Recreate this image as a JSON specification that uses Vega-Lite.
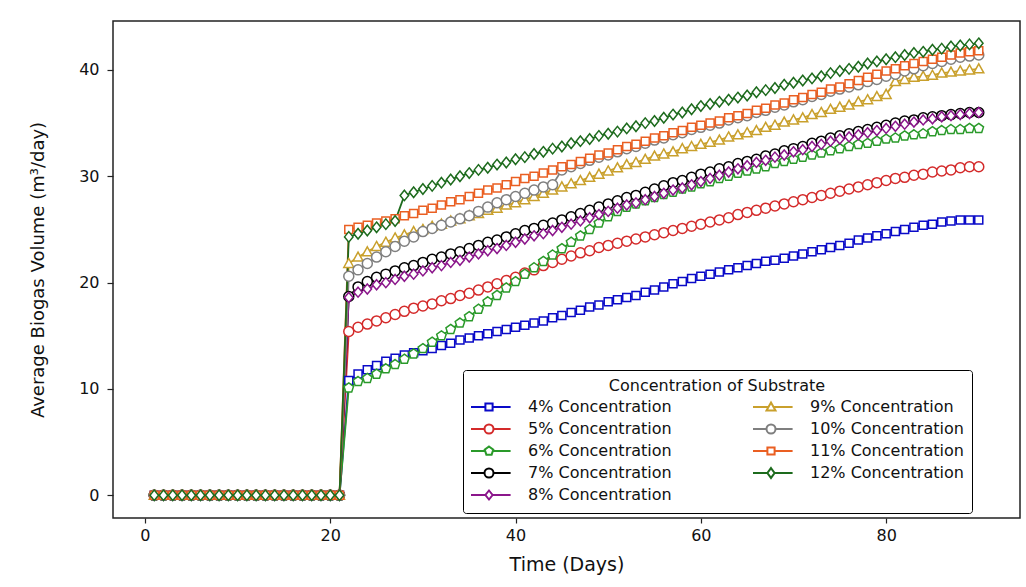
{
"$schema": "https://vega.github.io/schema/vega-lite/v6.json",
"width": 907, "height": 497,
"autosize": {"type": "none"},
"padding": {"left": 113, "top": 21, "right": 6, "bottom": 69},
"background": "white",
"config": {"font": "DejaVu Sans", "view": {"stroke": "#222222", "strokeWidth": 1.5}},
"data": {"values": [
{"c":"4%","d":1,"v":0},{"c":"4%","d":2,"v":0},{"c":"4%","d":3,"v":0},{"c":"4%","d":4,"v":0},{"c":"4%","d":5,"v":0},{"c":"4%","d":6,"v":0},{"c":"4%","d":7,"v":0},{"c":"4%","d":8,"v":0},{"c":"4%","d":9,"v":0},{"c":"4%","d":10,"v":0},{"c":"4%","d":11,"v":0},{"c":"4%","d":12,"v":0},{"c":"4%","d":13,"v":0},{"c":"4%","d":14,"v":0},{"c":"4%","d":15,"v":0},{"c":"4%","d":16,"v":0},{"c":"4%","d":17,"v":0},{"c":"4%","d":18,"v":0},{"c":"4%","d":19,"v":0},{"c":"4%","d":20,"v":0},{"c":"4%","d":21,"v":0},
{"c":"4%","d":22,"v":10.8},{"c":"4%","d":23,"v":11.4},{"c":"4%","d":24,"v":11.8},{"c":"4%","d":25,"v":12.2},{"c":"4%","d":26,"v":12.6},{"c":"4%","d":27,"v":12.9},{"c":"4%","d":28,"v":13.2},{"c":"4%","d":29,"v":13.4},{"c":"4%","d":30,"v":13.6},
{"c":"4%","d":31,"v":13.8},{"c":"4%","d":32,"v":14.1},{"c":"4%","d":33,"v":14.3},{"c":"4%","d":34,"v":14.6},{"c":"4%","d":35,"v":14.8},{"c":"4%","d":36,"v":15.0},{"c":"4%","d":37,"v":15.2},{"c":"4%","d":38,"v":15.4},{"c":"4%","d":39,"v":15.6},{"c":"4%","d":40,"v":15.8},
{"c":"4%","d":41,"v":16.0},{"c":"4%","d":42,"v":16.2},{"c":"4%","d":43,"v":16.4},{"c":"4%","d":44,"v":16.7},{"c":"4%","d":45,"v":16.9},{"c":"4%","d":46,"v":17.2},{"c":"4%","d":47,"v":17.4},{"c":"4%","d":48,"v":17.7},{"c":"4%","d":49,"v":17.9},{"c":"4%","d":50,"v":18.2},
{"c":"4%","d":51,"v":18.4},{"c":"4%","d":52,"v":18.6},{"c":"4%","d":53,"v":18.8},{"c":"4%","d":54,"v":19.1},{"c":"4%","d":55,"v":19.3},{"c":"4%","d":56,"v":19.6},{"c":"4%","d":57,"v":19.9},{"c":"4%","d":58,"v":20.1},{"c":"4%","d":59,"v":20.4},{"c":"4%","d":60,"v":20.6},
{"c":"4%","d":61,"v":20.8},{"c":"4%","d":62,"v":21.0},{"c":"4%","d":63,"v":21.2},{"c":"4%","d":64,"v":21.4},{"c":"4%","d":65,"v":21.6},{"c":"4%","d":66,"v":21.8},{"c":"4%","d":67,"v":22.0},{"c":"4%","d":68,"v":22.1},{"c":"4%","d":69,"v":22.3},{"c":"4%","d":70,"v":22.5},
{"c":"4%","d":71,"v":22.7},{"c":"4%","d":72,"v":22.9},{"c":"4%","d":73,"v":23.1},{"c":"4%","d":74,"v":23.3},{"c":"4%","d":75,"v":23.5},{"c":"4%","d":76,"v":23.7},{"c":"4%","d":77,"v":24.0},{"c":"4%","d":78,"v":24.2},{"c":"4%","d":79,"v":24.4},{"c":"4%","d":80,"v":24.6},
{"c":"4%","d":81,"v":24.8},{"c":"4%","d":82,"v":25.0},{"c":"4%","d":83,"v":25.2},{"c":"4%","d":84,"v":25.4},{"c":"4%","d":85,"v":25.5},{"c":"4%","d":86,"v":25.7},{"c":"4%","d":87,"v":25.8},{"c":"4%","d":88,"v":25.9},{"c":"4%","d":89,"v":25.9},{"c":"4%","d":90,"v":25.9},
{"c":"5%","d":1,"v":0},{"c":"5%","d":2,"v":0},{"c":"5%","d":3,"v":0},{"c":"5%","d":4,"v":0},{"c":"5%","d":5,"v":0},{"c":"5%","d":6,"v":0},{"c":"5%","d":7,"v":0},{"c":"5%","d":8,"v":0},{"c":"5%","d":9,"v":0},{"c":"5%","d":10,"v":0},{"c":"5%","d":11,"v":0},{"c":"5%","d":12,"v":0},{"c":"5%","d":13,"v":0},{"c":"5%","d":14,"v":0},{"c":"5%","d":15,"v":0},{"c":"5%","d":16,"v":0},{"c":"5%","d":17,"v":0},{"c":"5%","d":18,"v":0},{"c":"5%","d":19,"v":0},{"c":"5%","d":20,"v":0},{"c":"5%","d":21,"v":0},
{"c":"5%","d":22,"v":15.4},{"c":"5%","d":23,"v":15.8},{"c":"5%","d":24,"v":16.1},{"c":"5%","d":25,"v":16.4},{"c":"5%","d":26,"v":16.7},{"c":"5%","d":27,"v":17.0},{"c":"5%","d":28,"v":17.3},{"c":"5%","d":29,"v":17.6},{"c":"5%","d":30,"v":17.8},
{"c":"5%","d":31,"v":18.0},{"c":"5%","d":32,"v":18.3},{"c":"5%","d":33,"v":18.5},{"c":"5%","d":34,"v":18.8},{"c":"5%","d":35,"v":19.0},{"c":"5%","d":36,"v":19.3},{"c":"5%","d":37,"v":19.6},{"c":"5%","d":38,"v":19.9},{"c":"5%","d":39,"v":20.2},{"c":"5%","d":40,"v":20.5},
{"c":"5%","d":41,"v":20.9},{"c":"5%","d":42,"v":21.2},{"c":"5%","d":43,"v":21.6},{"c":"5%","d":44,"v":21.9},{"c":"5%","d":45,"v":22.2},{"c":"5%","d":46,"v":22.5},{"c":"5%","d":47,"v":22.8},{"c":"5%","d":48,"v":23.0},{"c":"5%","d":49,"v":23.3},{"c":"5%","d":50,"v":23.5},
{"c":"5%","d":51,"v":23.7},{"c":"5%","d":52,"v":23.9},{"c":"5%","d":53,"v":24.1},{"c":"5%","d":54,"v":24.3},{"c":"5%","d":55,"v":24.5},{"c":"5%","d":56,"v":24.7},{"c":"5%","d":57,"v":24.9},{"c":"5%","d":58,"v":25.1},{"c":"5%","d":59,"v":25.3},{"c":"5%","d":60,"v":25.5},
{"c":"5%","d":61,"v":25.7},{"c":"5%","d":62,"v":25.9},{"c":"5%","d":63,"v":26.1},{"c":"5%","d":64,"v":26.4},{"c":"5%","d":65,"v":26.6},{"c":"5%","d":66,"v":26.8},{"c":"5%","d":67,"v":27.0},{"c":"5%","d":68,"v":27.2},{"c":"5%","d":69,"v":27.4},{"c":"5%","d":70,"v":27.6},
{"c":"5%","d":71,"v":27.8},{"c":"5%","d":72,"v":28.0},{"c":"5%","d":73,"v":28.2},{"c":"5%","d":74,"v":28.4},{"c":"5%","d":75,"v":28.6},{"c":"5%","d":76,"v":28.8},{"c":"5%","d":77,"v":29.0},{"c":"5%","d":78,"v":29.2},{"c":"5%","d":79,"v":29.4},{"c":"5%","d":80,"v":29.6},
{"c":"5%","d":81,"v":29.8},{"c":"5%","d":82,"v":29.9},{"c":"5%","d":83,"v":30.1},{"c":"5%","d":84,"v":30.2},{"c":"5%","d":85,"v":30.4},{"c":"5%","d":86,"v":30.5},{"c":"5%","d":87,"v":30.6},{"c":"5%","d":88,"v":30.8},{"c":"5%","d":89,"v":30.9},{"c":"5%","d":90,"v":30.9},
{"c":"6%","d":1,"v":0},{"c":"6%","d":2,"v":0},{"c":"6%","d":3,"v":0},{"c":"6%","d":4,"v":0},{"c":"6%","d":5,"v":0},{"c":"6%","d":6,"v":0},{"c":"6%","d":7,"v":0},{"c":"6%","d":8,"v":0},{"c":"6%","d":9,"v":0},{"c":"6%","d":10,"v":0},{"c":"6%","d":11,"v":0},{"c":"6%","d":12,"v":0},{"c":"6%","d":13,"v":0},{"c":"6%","d":14,"v":0},{"c":"6%","d":15,"v":0},{"c":"6%","d":16,"v":0},{"c":"6%","d":17,"v":0},{"c":"6%","d":18,"v":0},{"c":"6%","d":19,"v":0},{"c":"6%","d":20,"v":0},{"c":"6%","d":21,"v":0},
{"c":"6%","d":22,"v":10.1},{"c":"6%","d":23,"v":10.7},{"c":"6%","d":24,"v":11.0},{"c":"6%","d":25,"v":11.4},{"c":"6%","d":26,"v":11.9},{"c":"6%","d":27,"v":12.3},{"c":"6%","d":28,"v":12.8},{"c":"6%","d":29,"v":13.3},{"c":"6%","d":30,"v":13.8},
{"c":"6%","d":31,"v":14.4},{"c":"6%","d":32,"v":15.0},{"c":"6%","d":33,"v":15.6},{"c":"6%","d":34,"v":16.2},{"c":"6%","d":35,"v":16.8},{"c":"6%","d":36,"v":17.5},{"c":"6%","d":37,"v":18.2},{"c":"6%","d":38,"v":18.8},{"c":"6%","d":39,"v":19.5},{"c":"6%","d":40,"v":20.1},
{"c":"6%","d":41,"v":20.8},{"c":"6%","d":42,"v":21.4},{"c":"6%","d":43,"v":22.0},{"c":"6%","d":44,"v":22.6},{"c":"6%","d":45,"v":23.2},{"c":"6%","d":46,"v":23.8},{"c":"6%","d":47,"v":24.4},{"c":"6%","d":48,"v":25.0},{"c":"6%","d":49,"v":25.6},{"c":"6%","d":50,"v":26.2},
{"c":"6%","d":51,"v":26.7},{"c":"6%","d":52,"v":27.1},{"c":"6%","d":53,"v":27.4},{"c":"6%","d":54,"v":27.7},{"c":"6%","d":55,"v":28.0},{"c":"6%","d":56,"v":28.3},{"c":"6%","d":57,"v":28.5},{"c":"6%","d":58,"v":28.8},{"c":"6%","d":59,"v":29.0},{"c":"6%","d":60,"v":29.3},
{"c":"6%","d":61,"v":29.5},{"c":"6%","d":62,"v":29.8},{"c":"6%","d":63,"v":30.0},{"c":"6%","d":64,"v":30.3},{"c":"6%","d":65,"v":30.5},{"c":"6%","d":66,"v":30.7},{"c":"6%","d":67,"v":30.9},{"c":"6%","d":68,"v":31.2},{"c":"6%","d":69,"v":31.4},{"c":"6%","d":70,"v":31.6},
{"c":"6%","d":71,"v":31.8},{"c":"6%","d":72,"v":32.0},{"c":"6%","d":73,"v":32.2},{"c":"6%","d":74,"v":32.4},{"c":"6%","d":75,"v":32.6},{"c":"6%","d":76,"v":32.8},{"c":"6%","d":77,"v":33.0},{"c":"6%","d":78,"v":33.1},{"c":"6%","d":79,"v":33.3},{"c":"6%","d":80,"v":33.5},
{"c":"6%","d":81,"v":33.6},{"c":"6%","d":82,"v":33.8},{"c":"6%","d":83,"v":33.9},{"c":"6%","d":84,"v":34.0},{"c":"6%","d":85,"v":34.2},{"c":"6%","d":86,"v":34.3},{"c":"6%","d":87,"v":34.4},{"c":"6%","d":88,"v":34.4},{"c":"6%","d":89,"v":34.5},{"c":"6%","d":90,"v":34.5},
{"c":"7%","d":1,"v":0},{"c":"7%","d":2,"v":0},{"c":"7%","d":3,"v":0},{"c":"7%","d":4,"v":0},{"c":"7%","d":5,"v":0},{"c":"7%","d":6,"v":0},{"c":"7%","d":7,"v":0},{"c":"7%","d":8,"v":0},{"c":"7%","d":9,"v":0},{"c":"7%","d":10,"v":0},{"c":"7%","d":11,"v":0},{"c":"7%","d":12,"v":0},{"c":"7%","d":13,"v":0},{"c":"7%","d":14,"v":0},{"c":"7%","d":15,"v":0},{"c":"7%","d":16,"v":0},{"c":"7%","d":17,"v":0},{"c":"7%","d":18,"v":0},{"c":"7%","d":19,"v":0},{"c":"7%","d":20,"v":0},{"c":"7%","d":21,"v":0},
{"c":"7%","d":22,"v":18.7},{"c":"7%","d":23,"v":19.6},{"c":"7%","d":24,"v":20.1},{"c":"7%","d":25,"v":20.5},{"c":"7%","d":26,"v":20.8},{"c":"7%","d":27,"v":21.1},{"c":"7%","d":28,"v":21.4},{"c":"7%","d":29,"v":21.6},{"c":"7%","d":30,"v":21.9},
{"c":"7%","d":31,"v":22.2},{"c":"7%","d":32,"v":22.4},{"c":"7%","d":33,"v":22.7},{"c":"7%","d":34,"v":22.9},{"c":"7%","d":35,"v":23.2},{"c":"7%","d":36,"v":23.5},{"c":"7%","d":37,"v":23.8},{"c":"7%","d":38,"v":24.0},{"c":"7%","d":39,"v":24.3},{"c":"7%","d":40,"v":24.6},
{"c":"7%","d":41,"v":24.9},{"c":"7%","d":42,"v":25.1},{"c":"7%","d":43,"v":25.4},{"c":"7%","d":44,"v":25.6},{"c":"7%","d":45,"v":25.9},{"c":"7%","d":46,"v":26.2},{"c":"7%","d":47,"v":26.5},{"c":"7%","d":48,"v":26.8},{"c":"7%","d":49,"v":27.1},{"c":"7%","d":50,"v":27.4},
{"c":"7%","d":51,"v":27.7},{"c":"7%","d":52,"v":28.0},{"c":"7%","d":53,"v":28.2},{"c":"7%","d":54,"v":28.5},{"c":"7%","d":55,"v":28.8},{"c":"7%","d":56,"v":29.1},{"c":"7%","d":57,"v":29.4},{"c":"7%","d":58,"v":29.6},{"c":"7%","d":59,"v":29.9},{"c":"7%","d":60,"v":30.2},
{"c":"7%","d":61,"v":30.4},{"c":"7%","d":62,"v":30.7},{"c":"7%","d":63,"v":30.9},{"c":"7%","d":64,"v":31.2},{"c":"7%","d":65,"v":31.4},{"c":"7%","d":66,"v":31.6},{"c":"7%","d":67,"v":31.9},{"c":"7%","d":68,"v":32.1},{"c":"7%","d":69,"v":32.4},{"c":"7%","d":70,"v":32.6},
{"c":"7%","d":71,"v":32.8},{"c":"7%","d":72,"v":33.1},{"c":"7%","d":73,"v":33.3},{"c":"7%","d":74,"v":33.6},{"c":"7%","d":75,"v":33.8},{"c":"7%","d":76,"v":34.0},{"c":"7%","d":77,"v":34.2},{"c":"7%","d":78,"v":34.4},{"c":"7%","d":79,"v":34.6},{"c":"7%","d":80,"v":34.8},
{"c":"7%","d":81,"v":35.0},{"c":"7%","d":82,"v":35.2},{"c":"7%","d":83,"v":35.3},{"c":"7%","d":84,"v":35.5},{"c":"7%","d":85,"v":35.6},{"c":"7%","d":86,"v":35.7},{"c":"7%","d":87,"v":35.8},{"c":"7%","d":88,"v":35.9},{"c":"7%","d":89,"v":36.0},{"c":"7%","d":90,"v":36.0},
{"c":"8%","d":1,"v":0},{"c":"8%","d":2,"v":0},{"c":"8%","d":3,"v":0},{"c":"8%","d":4,"v":0},{"c":"8%","d":5,"v":0},{"c":"8%","d":6,"v":0},{"c":"8%","d":7,"v":0},{"c":"8%","d":8,"v":0},{"c":"8%","d":9,"v":0},{"c":"8%","d":10,"v":0},{"c":"8%","d":11,"v":0},{"c":"8%","d":12,"v":0},{"c":"8%","d":13,"v":0},{"c":"8%","d":14,"v":0},{"c":"8%","d":15,"v":0},{"c":"8%","d":16,"v":0},{"c":"8%","d":17,"v":0},{"c":"8%","d":18,"v":0},{"c":"8%","d":19,"v":0},{"c":"8%","d":20,"v":0},{"c":"8%","d":21,"v":0},
{"c":"8%","d":22,"v":18.6},{"c":"8%","d":23,"v":19.1},{"c":"8%","d":24,"v":19.4},{"c":"8%","d":25,"v":19.8},{"c":"8%","d":26,"v":20.0},{"c":"8%","d":27,"v":20.3},{"c":"8%","d":28,"v":20.6},{"c":"8%","d":29,"v":20.8},{"c":"8%","d":30,"v":21.1},
{"c":"8%","d":31,"v":21.4},{"c":"8%","d":32,"v":21.6},{"c":"8%","d":33,"v":21.9},{"c":"8%","d":34,"v":22.1},{"c":"8%","d":35,"v":22.4},{"c":"8%","d":36,"v":22.7},{"c":"8%","d":37,"v":23.0},{"c":"8%","d":38,"v":23.2},{"c":"8%","d":39,"v":23.5},{"c":"8%","d":40,"v":23.8},
{"c":"8%","d":41,"v":24.1},{"c":"8%","d":42,"v":24.4},{"c":"8%","d":43,"v":24.6},{"c":"8%","d":44,"v":24.9},{"c":"8%","d":45,"v":25.2},{"c":"8%","d":46,"v":25.5},{"c":"8%","d":47,"v":25.8},{"c":"8%","d":48,"v":26.1},{"c":"8%","d":49,"v":26.4},{"c":"8%","d":50,"v":26.7},
{"c":"8%","d":51,"v":27.0},{"c":"8%","d":52,"v":27.3},{"c":"8%","d":53,"v":27.5},{"c":"8%","d":54,"v":27.8},{"c":"8%","d":55,"v":28.1},{"c":"8%","d":56,"v":28.4},{"c":"8%","d":57,"v":28.7},{"c":"8%","d":58,"v":28.9},{"c":"8%","d":59,"v":29.2},{"c":"8%","d":60,"v":29.5},
{"c":"8%","d":61,"v":29.8},{"c":"8%","d":62,"v":30.1},{"c":"8%","d":63,"v":30.4},{"c":"8%","d":64,"v":30.7},{"c":"8%","d":65,"v":31.0},{"c":"8%","d":66,"v":31.3},{"c":"8%","d":67,"v":31.5},{"c":"8%","d":68,"v":31.8},{"c":"8%","d":69,"v":32.0},{"c":"8%","d":70,"v":32.3},
{"c":"8%","d":71,"v":32.5},{"c":"8%","d":72,"v":32.8},{"c":"8%","d":73,"v":33.0},{"c":"8%","d":74,"v":33.3},{"c":"8%","d":75,"v":33.5},{"c":"8%","d":76,"v":33.7},{"c":"8%","d":77,"v":33.9},{"c":"8%","d":78,"v":34.1},{"c":"8%","d":79,"v":34.3},{"c":"8%","d":80,"v":34.5},
{"c":"8%","d":81,"v":34.7},{"c":"8%","d":82,"v":34.9},{"c":"8%","d":83,"v":35.1},{"c":"8%","d":84,"v":35.3},{"c":"8%","d":85,"v":35.4},{"c":"8%","d":86,"v":35.6},{"c":"8%","d":87,"v":35.7},{"c":"8%","d":88,"v":35.8},{"c":"8%","d":89,"v":35.9},{"c":"8%","d":90,"v":36.0},
{"c":"9%","d":1,"v":0},{"c":"9%","d":2,"v":0},{"c":"9%","d":3,"v":0},{"c":"9%","d":4,"v":0},{"c":"9%","d":5,"v":0},{"c":"9%","d":6,"v":0},{"c":"9%","d":7,"v":0},{"c":"9%","d":8,"v":0},{"c":"9%","d":9,"v":0},{"c":"9%","d":10,"v":0},{"c":"9%","d":11,"v":0},{"c":"9%","d":12,"v":0},{"c":"9%","d":13,"v":0},{"c":"9%","d":14,"v":0},{"c":"9%","d":15,"v":0},{"c":"9%","d":16,"v":0},{"c":"9%","d":17,"v":0},{"c":"9%","d":18,"v":0},{"c":"9%","d":19,"v":0},{"c":"9%","d":20,"v":0},{"c":"9%","d":21,"v":0},
{"c":"9%","d":22,"v":21.8},{"c":"9%","d":23,"v":22.4},{"c":"9%","d":24,"v":22.9},{"c":"9%","d":25,"v":23.4},{"c":"9%","d":26,"v":23.8},{"c":"9%","d":27,"v":24.2},{"c":"9%","d":28,"v":24.5},{"c":"9%","d":29,"v":24.8},{"c":"9%","d":30,"v":25.0},
{"c":"9%","d":31,"v":25.3},{"c":"9%","d":32,"v":25.5},{"c":"9%","d":33,"v":25.8},{"c":"9%","d":34,"v":26.0},{"c":"9%","d":35,"v":26.3},{"c":"9%","d":36,"v":26.5},{"c":"9%","d":37,"v":26.8},{"c":"9%","d":38,"v":27.0},{"c":"9%","d":39,"v":27.3},{"c":"9%","d":40,"v":27.5},
{"c":"9%","d":41,"v":27.8},{"c":"9%","d":42,"v":28.1},{"c":"9%","d":43,"v":28.4},{"c":"9%","d":44,"v":28.7},{"c":"9%","d":45,"v":29.0},{"c":"9%","d":46,"v":29.3},{"c":"9%","d":47,"v":29.6},{"c":"9%","d":48,"v":29.9},{"c":"9%","d":49,"v":30.2},{"c":"9%","d":50,"v":30.5},
{"c":"9%","d":51,"v":30.8},{"c":"9%","d":52,"v":31.1},{"c":"9%","d":53,"v":31.3},{"c":"9%","d":54,"v":31.6},{"c":"9%","d":55,"v":31.9},{"c":"9%","d":56,"v":32.1},{"c":"9%","d":57,"v":32.3},{"c":"9%","d":58,"v":32.6},{"c":"9%","d":59,"v":32.8},{"c":"9%","d":60,"v":33.0},
{"c":"9%","d":61,"v":33.2},{"c":"9%","d":62,"v":33.4},{"c":"9%","d":63,"v":33.7},{"c":"9%","d":64,"v":33.9},{"c":"9%","d":65,"v":34.1},{"c":"9%","d":66,"v":34.3},{"c":"9%","d":67,"v":34.6},{"c":"9%","d":68,"v":34.8},{"c":"9%","d":69,"v":35.1},{"c":"9%","d":70,"v":35.3},
{"c":"9%","d":71,"v":35.5},{"c":"9%","d":72,"v":35.8},{"c":"9%","d":73,"v":36.0},{"c":"9%","d":74,"v":36.3},{"c":"9%","d":75,"v":36.5},{"c":"9%","d":76,"v":36.7},{"c":"9%","d":77,"v":37.0},{"c":"9%","d":78,"v":37.2},{"c":"9%","d":79,"v":37.5},{"c":"9%","d":80,"v":37.7},
{"c":"9%","d":81,"v":38.9},{"c":"9%","d":82,"v":39.1},{"c":"9%","d":83,"v":39.3},{"c":"9%","d":84,"v":39.4},{"c":"9%","d":85,"v":39.5},{"c":"9%","d":86,"v":39.7},{"c":"9%","d":87,"v":39.8},{"c":"9%","d":88,"v":39.9},{"c":"9%","d":89,"v":40.0},{"c":"9%","d":90,"v":40.1},
{"c":"10%","d":1,"v":0},{"c":"10%","d":2,"v":0},{"c":"10%","d":3,"v":0},{"c":"10%","d":4,"v":0},{"c":"10%","d":5,"v":0},{"c":"10%","d":6,"v":0},{"c":"10%","d":7,"v":0},{"c":"10%","d":8,"v":0},{"c":"10%","d":9,"v":0},{"c":"10%","d":10,"v":0},{"c":"10%","d":11,"v":0},{"c":"10%","d":12,"v":0},{"c":"10%","d":13,"v":0},{"c":"10%","d":14,"v":0},{"c":"10%","d":15,"v":0},{"c":"10%","d":16,"v":0},{"c":"10%","d":17,"v":0},{"c":"10%","d":18,"v":0},{"c":"10%","d":19,"v":0},{"c":"10%","d":20,"v":0},{"c":"10%","d":21,"v":0},
{"c":"10%","d":22,"v":20.6},{"c":"10%","d":23,"v":21.2},{"c":"10%","d":24,"v":21.8},{"c":"10%","d":25,"v":22.4},{"c":"10%","d":26,"v":22.9},{"c":"10%","d":27,"v":23.4},{"c":"10%","d":28,"v":23.9},{"c":"10%","d":29,"v":24.3},{"c":"10%","d":30,"v":24.8},
{"c":"10%","d":31,"v":25.1},{"c":"10%","d":32,"v":25.4},{"c":"10%","d":33,"v":25.7},{"c":"10%","d":34,"v":26.0},{"c":"10%","d":35,"v":26.3},{"c":"10%","d":36,"v":26.7},{"c":"10%","d":37,"v":27.1},{"c":"10%","d":38,"v":27.5},{"c":"10%","d":39,"v":27.8},{"c":"10%","d":40,"v":28.1},
{"c":"10%","d":41,"v":28.4},{"c":"10%","d":42,"v":28.7},{"c":"10%","d":43,"v":29.0},{"c":"10%","d":44,"v":29.2},{"c":"10%","d":45,"v":30.6},{"c":"10%","d":46,"v":30.9},{"c":"10%","d":47,"v":31.2},{"c":"10%","d":48,"v":31.5},{"c":"10%","d":49,"v":31.8},{"c":"10%","d":50,"v":32.0},
{"c":"10%","d":51,"v":32.3},{"c":"10%","d":52,"v":32.6},{"c":"10%","d":53,"v":32.8},{"c":"10%","d":54,"v":33.1},{"c":"10%","d":55,"v":33.4},{"c":"10%","d":56,"v":33.6},{"c":"10%","d":57,"v":33.9},{"c":"10%","d":58,"v":34.1},{"c":"10%","d":59,"v":34.4},{"c":"10%","d":60,"v":34.6},
{"c":"10%","d":61,"v":34.8},{"c":"10%","d":62,"v":35.0},{"c":"10%","d":63,"v":35.3},{"c":"10%","d":64,"v":35.5},{"c":"10%","d":65,"v":35.7},{"c":"10%","d":66,"v":36.0},{"c":"10%","d":67,"v":36.2},{"c":"10%","d":68,"v":36.5},{"c":"10%","d":69,"v":36.7},{"c":"10%","d":70,"v":37.0},
{"c":"10%","d":71,"v":37.2},{"c":"10%","d":72,"v":37.5},{"c":"10%","d":73,"v":37.7},{"c":"10%","d":74,"v":38.0},{"c":"10%","d":75,"v":38.2},{"c":"10%","d":76,"v":38.4},{"c":"10%","d":77,"v":38.6},{"c":"10%","d":78,"v":38.9},{"c":"10%","d":79,"v":39.1},{"c":"10%","d":80,"v":39.4},
{"c":"10%","d":81,"v":39.6},{"c":"10%","d":82,"v":39.9},{"c":"10%","d":83,"v":40.1},{"c":"10%","d":84,"v":40.4},{"c":"10%","d":85,"v":40.6},{"c":"10%","d":86,"v":40.8},{"c":"10%","d":87,"v":41.0},{"c":"10%","d":88,"v":41.2},{"c":"10%","d":89,"v":41.3},{"c":"10%","d":90,"v":41.4},
{"c":"11%","d":1,"v":0},{"c":"11%","d":2,"v":0},{"c":"11%","d":3,"v":0},{"c":"11%","d":4,"v":0},{"c":"11%","d":5,"v":0},{"c":"11%","d":6,"v":0},{"c":"11%","d":7,"v":0},{"c":"11%","d":8,"v":0},{"c":"11%","d":9,"v":0},{"c":"11%","d":10,"v":0},{"c":"11%","d":11,"v":0},{"c":"11%","d":12,"v":0},{"c":"11%","d":13,"v":0},{"c":"11%","d":14,"v":0},{"c":"11%","d":15,"v":0},{"c":"11%","d":16,"v":0},{"c":"11%","d":17,"v":0},{"c":"11%","d":18,"v":0},{"c":"11%","d":19,"v":0},{"c":"11%","d":20,"v":0},{"c":"11%","d":21,"v":0},
{"c":"11%","d":22,"v":25.0},{"c":"11%","d":23,"v":25.2},{"c":"11%","d":24,"v":25.4},{"c":"11%","d":25,"v":25.6},{"c":"11%","d":26,"v":25.8},{"c":"11%","d":27,"v":26.0},{"c":"11%","d":28,"v":26.3},{"c":"11%","d":29,"v":26.5},{"c":"11%","d":30,"v":26.8},
{"c":"11%","d":31,"v":27.0},{"c":"11%","d":32,"v":27.3},{"c":"11%","d":33,"v":27.6},{"c":"11%","d":34,"v":27.8},{"c":"11%","d":35,"v":28.1},{"c":"11%","d":36,"v":28.4},{"c":"11%","d":37,"v":28.7},{"c":"11%","d":38,"v":28.9},{"c":"11%","d":39,"v":29.2},{"c":"11%","d":40,"v":29.5},
{"c":"11%","d":41,"v":29.8},{"c":"11%","d":42,"v":30.0},{"c":"11%","d":43,"v":30.3},{"c":"11%","d":44,"v":30.6},{"c":"11%","d":45,"v":30.9},{"c":"11%","d":46,"v":31.1},{"c":"11%","d":47,"v":31.4},{"c":"11%","d":48,"v":31.7},{"c":"11%","d":49,"v":32.0},{"c":"11%","d":50,"v":32.2},
{"c":"11%","d":51,"v":32.5},{"c":"11%","d":52,"v":32.8},{"c":"11%","d":53,"v":33.0},{"c":"11%","d":54,"v":33.3},{"c":"11%","d":55,"v":33.6},{"c":"11%","d":56,"v":33.8},{"c":"11%","d":57,"v":34.1},{"c":"11%","d":58,"v":34.3},{"c":"11%","d":59,"v":34.6},{"c":"11%","d":60,"v":34.8},
{"c":"11%","d":61,"v":35.0},{"c":"11%","d":62,"v":35.2},{"c":"11%","d":63,"v":35.5},{"c":"11%","d":64,"v":35.7},{"c":"11%","d":65,"v":35.9},{"c":"11%","d":66,"v":36.2},{"c":"11%","d":67,"v":36.4},{"c":"11%","d":68,"v":36.7},{"c":"11%","d":69,"v":36.9},{"c":"11%","d":70,"v":37.2},
{"c":"11%","d":71,"v":37.4},{"c":"11%","d":72,"v":37.7},{"c":"11%","d":73,"v":37.9},{"c":"11%","d":74,"v":38.2},{"c":"11%","d":75,"v":38.4},{"c":"11%","d":76,"v":38.7},{"c":"11%","d":77,"v":39.0},{"c":"11%","d":78,"v":39.3},{"c":"11%","d":79,"v":39.6},{"c":"11%","d":80,"v":39.9},
{"c":"11%","d":81,"v":40.1},{"c":"11%","d":82,"v":40.4},{"c":"11%","d":83,"v":40.6},{"c":"11%","d":84,"v":40.8},{"c":"11%","d":85,"v":41.0},{"c":"11%","d":86,"v":41.2},{"c":"11%","d":87,"v":41.4},{"c":"11%","d":88,"v":41.6},{"c":"11%","d":89,"v":41.7},{"c":"11%","d":90,"v":41.8},
{"c":"12%","d":1,"v":0},{"c":"12%","d":2,"v":0},{"c":"12%","d":3,"v":0},{"c":"12%","d":4,"v":0},{"c":"12%","d":5,"v":0},{"c":"12%","d":6,"v":0},{"c":"12%","d":7,"v":0},{"c":"12%","d":8,"v":0},{"c":"12%","d":9,"v":0},{"c":"12%","d":10,"v":0},{"c":"12%","d":11,"v":0},{"c":"12%","d":12,"v":0},{"c":"12%","d":13,"v":0},{"c":"12%","d":14,"v":0},{"c":"12%","d":15,"v":0},{"c":"12%","d":16,"v":0},{"c":"12%","d":17,"v":0},{"c":"12%","d":18,"v":0},{"c":"12%","d":19,"v":0},{"c":"12%","d":20,"v":0},{"c":"12%","d":21,"v":0},
{"c":"12%","d":22,"v":24.3},{"c":"12%","d":23,"v":24.6},{"c":"12%","d":24,"v":24.9},{"c":"12%","d":25,"v":25.2},{"c":"12%","d":26,"v":25.5},{"c":"12%","d":27,"v":25.8},{"c":"12%","d":28,"v":28.2},{"c":"12%","d":29,"v":28.5},{"c":"12%","d":30,"v":28.8},
{"c":"12%","d":31,"v":29.1},{"c":"12%","d":32,"v":29.4},{"c":"12%","d":33,"v":29.7},{"c":"12%","d":34,"v":30.0},{"c":"12%","d":35,"v":30.3},{"c":"12%","d":36,"v":30.6},{"c":"12%","d":37,"v":30.8},{"c":"12%","d":38,"v":31.1},{"c":"12%","d":39,"v":31.3},{"c":"12%","d":40,"v":31.6},
{"c":"12%","d":41,"v":31.8},{"c":"12%","d":42,"v":32.1},{"c":"12%","d":43,"v":32.3},{"c":"12%","d":44,"v":32.6},{"c":"12%","d":45,"v":32.8},{"c":"12%","d":46,"v":33.1},{"c":"12%","d":47,"v":33.3},{"c":"12%","d":48,"v":33.5},{"c":"12%","d":49,"v":33.8},{"c":"12%","d":50,"v":34.0},
{"c":"12%","d":51,"v":34.2},{"c":"12%","d":52,"v":34.5},{"c":"12%","d":53,"v":34.7},{"c":"12%","d":54,"v":35.0},{"c":"12%","d":55,"v":35.2},{"c":"12%","d":56,"v":35.5},{"c":"12%","d":57,"v":35.8},{"c":"12%","d":58,"v":36.0},{"c":"12%","d":59,"v":36.3},{"c":"12%","d":60,"v":36.6},
{"c":"12%","d":61,"v":36.8},{"c":"12%","d":62,"v":37.0},{"c":"12%","d":63,"v":37.2},{"c":"12%","d":64,"v":37.4},{"c":"12%","d":65,"v":37.6},{"c":"12%","d":66,"v":37.9},{"c":"12%","d":67,"v":38.1},{"c":"12%","d":68,"v":38.3},{"c":"12%","d":69,"v":38.6},{"c":"12%","d":70,"v":38.8},
{"c":"12%","d":71,"v":39.0},{"c":"12%","d":72,"v":39.2},{"c":"12%","d":73,"v":39.4},{"c":"12%","d":74,"v":39.7},{"c":"12%","d":75,"v":39.9},{"c":"12%","d":76,"v":40.1},{"c":"12%","d":77,"v":40.3},{"c":"12%","d":78,"v":40.6},{"c":"12%","d":79,"v":40.8},{"c":"12%","d":80,"v":41.0},
{"c":"12%","d":81,"v":41.2},{"c":"12%","d":82,"v":41.4},{"c":"12%","d":83,"v":41.6},{"c":"12%","d":84,"v":41.7},{"c":"12%","d":85,"v":41.9},{"c":"12%","d":86,"v":42.0},{"c":"12%","d":87,"v":42.2},{"c":"12%","d":88,"v":42.3},{"c":"12%","d":89,"v":42.4},{"c":"12%","d":90,"v":42.5}
]},
"encoding": {
  "x": {"field": "d", "type": "quantitative",
    "scale": {"domain": [-3.45, 94.45], "nice": false, "zero": false},
    "axis": {"values": [0, 20, 40, 60, 80], "grid": false, "domain": false, "tickSize": 5, "tickColor": "#222222", "tickWidth": 1.2,
      "labelFontSize": 16, "labelColor": "#111111", "labelPadding": 4,
      "title": "Time (Days)", "titleFontSize": 19, "titleFontWeight": "normal", "titleColor": "#111111", "titlePadding": 12}},
  "y": {"field": "v", "type": "quantitative",
    "scale": {"domain": [-2.13, 44.6], "nice": false, "zero": false},
    "axis": {"values": [0, 10, 20, 30, 40], "grid": false, "domain": false, "tickSize": 6, "tickColor": "#222222", "tickWidth": 1.2,
      "labelFontSize": 16, "labelColor": "#111111", "labelPadding": 8,
      "title": "Average Biogas Volume (m³/day)", "titleFontSize": 18, "titleFontWeight": "normal", "titleColor": "#111111", "titlePadding": 31}},
  "color": {"field": "c", "type": "nominal",
    "scale": {"domain": ["4%", "5%", "6%", "7%", "8%", "9%", "10%", "11%", "12%"],
      "range": ["#0a0ac8", "#d42a2a", "#2a9a2a", "#000000", "#8b168b", "#c9a02c", "#7f7f7f", "#ea5f22", "#1d6b1d"]},
    "legend": {"title": "Concentration of Substrate", "orient": "none", "legendX": 350, "legendY": 349,
      "columns": 2, "columnPadding": 81, "rowPadding": 2, "padding": 8, "clipHeight": 20,
      "strokeColor": "#000000", "fillColor": "white", "cornerRadius": 3,
      "titleFontSize": 16, "titleFontWeight": "normal", "titleColor": "#111111", "titleAnchor": "middle", "titleAlign": "center", "titlePadding": 3, "titleLimit": 800,
      "labelFontSize": 16, "labelColor": "#111111", "labelOffset": 29, "labelLimit": 500,
      "labelExpr": "datum.label + ' Concentration'",
      "symbolOffset": 8, "symbolSize": 324, "symbolStrokeWidth": 2,
      "encode": {
        "symbols": {"update": {
          "shape": {"signal": "['M-2.4,0H-0.4M0.4,0H2.4M-0.4,-0.4H0.4V0.4H-0.4Z','M-2.4,0H-0.5M0.5,0H2.4M-0.5,0A0.5,0.5,0,1,0,0.5,0A0.5,0.5,0,1,0,-0.5,0Z','M-2.4,0H-0.43M0.43,0H2.4M0,-0.5L0.476,-0.155L0.294,0.405L-0.294,0.405L-0.476,-0.155Z','M-2.4,0H-0.5M0.5,0H2.4M-0.5,0A0.5,0.5,0,1,0,0.5,0A0.5,0.5,0,1,0,-0.5,0Z','M-2.4,0H-0.4M0.4,0H2.4M0,-0.5L0.4,0L0,0.5L-0.4,0Z','M-2.4,0H-0.28M0.28,0H2.4M0,-0.5L0.5,0.4L-0.5,0.4Z','M-2.4,0H-0.5M0.5,0H2.4M-0.5,0A0.5,0.5,0,1,0,0.5,0A0.5,0.5,0,1,0,-0.5,0Z','M-2.4,0H-0.4M0.4,0H2.4M-0.4,-0.4H0.4V0.4H-0.4Z','M-2.4,0H-0.4M0.4,0H2.4M0,-0.55L0.4,0L0,0.55L-0.4,0Z'][indexof(['4%','5%','6%','7%','8%','9%','10%','11%','12%'], datum.value)]"},
          "size": {"value": 324},
          "fill": {"value": "white"},
          "strokeWidth": {"value": 2},
          "opacity": {"value": 1}
        }}
      }
    }}
},
"layer": [
  {"mark": {"type": "line", "strokeWidth": 1.8}},
  {"transform": [{"filter": {"field": "c", "equal": "4%"}}],
   "mark": {"type": "point", "shape": "M-0.8,-0.8H0.8V0.8H-0.8Z", "filled": false, "fill": "white", "size": 100, "strokeWidth": 1.5, "opacity": 1}},
  {"transform": [{"filter": {"field": "c", "equal": "5%"}}],
   "mark": {"type": "point", "shape": "circle", "filled": false, "fill": "white", "size": 100, "strokeWidth": 1.5, "opacity": 1}},
  {"transform": [{"filter": {"field": "c", "equal": "6%"}}],
   "mark": {"type": "point", "shape": "M0,-1L0.951,-0.309L0.588,0.809L-0.588,0.809L-0.951,-0.309Z", "filled": false, "fill": "white", "size": 100, "strokeWidth": 1.5, "opacity": 1}},
  {"transform": [{"filter": {"field": "c", "equal": "7%"}}],
   "mark": {"type": "point", "shape": "circle", "filled": false, "fill": "white", "size": 100, "strokeWidth": 1.5, "opacity": 1}},
  {"transform": [{"filter": {"field": "c", "equal": "8%"}}],
   "mark": {"type": "point", "shape": "M0,-1L0.85,0L0,1L-0.85,0Z", "filled": false, "fill": "white", "size": 100, "strokeWidth": 1.5, "opacity": 1}},
  {"transform": [{"filter": {"field": "c", "equal": "9%"}}],
   "mark": {"type": "point", "shape": "M0,-1L1,0.8L-1,0.8Z", "filled": false, "fill": "white", "size": 100, "strokeWidth": 1.5, "opacity": 1}},
  {"transform": [{"filter": {"field": "c", "equal": "10%"}}],
   "mark": {"type": "point", "shape": "circle", "filled": false, "fill": "white", "size": 100, "strokeWidth": 1.5, "opacity": 1}},
  {"transform": [{"filter": {"field": "c", "equal": "11%"}}],
   "mark": {"type": "point", "shape": "M-0.8,-0.8H0.8V0.8H-0.8Z", "filled": false, "fill": "white", "size": 100, "strokeWidth": 1.5, "opacity": 1}},
  {"transform": [{"filter": {"field": "c", "equal": "12%"}}],
   "mark": {"type": "point", "shape": "M0,-1.05L0.85,0L0,1.05L-0.85,0Z", "filled": false, "fill": "white", "size": 100, "strokeWidth": 1.5, "opacity": 1}}
]
}
